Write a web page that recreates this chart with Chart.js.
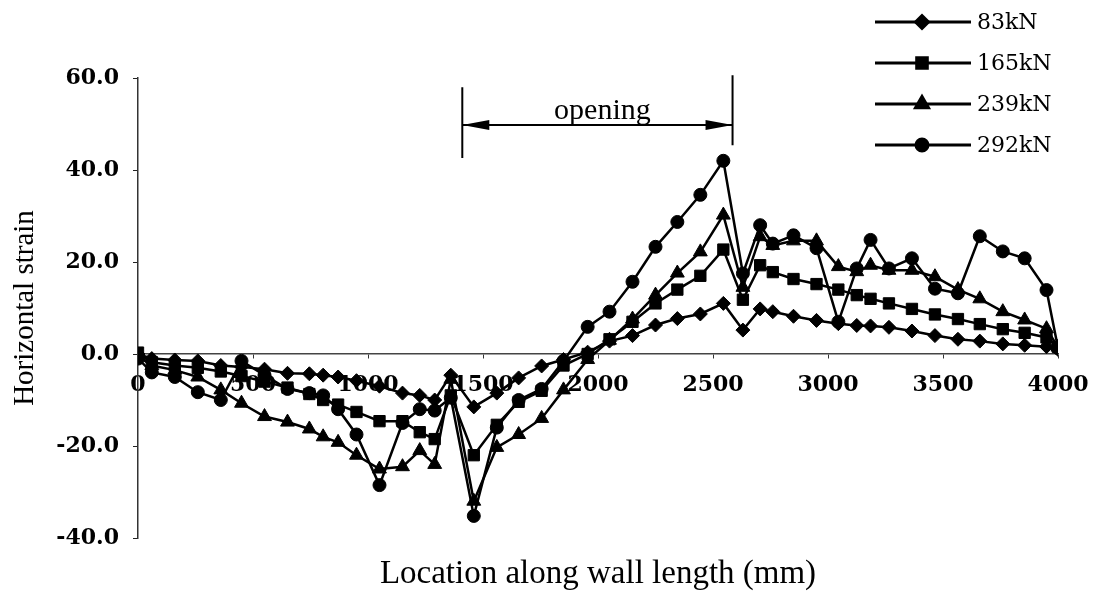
<!DOCTYPE html>
<html>
<head>
<meta charset="utf-8">
<title>Horizontal strain along wall length</title>
<script src="https://cdn.jsdelivr.net/npm/chart.js@4.4.0/dist/chart.umd.min.js"></script>
<style>
  html, body { margin: 0; padding: 0; background: #fff; }
</style>
</head>
<body>
<canvas id="strainChart" width="1096" height="597"></canvas>
<script>
// gauge positions along the wall (mm)
const locations = [0, 60, 160, 260, 360, 450, 550, 650, 745, 805, 870, 950, 1050, 1150, 1225, 1290,
  1360, 1460, 1560, 1655, 1755, 1850, 1955, 2050, 2150, 2250, 2345, 2445, 2545, 2630, 2705, 2760,
  2850, 2950, 3045, 3125, 3185, 3265, 3365, 3465, 3565, 3660, 3760, 3855, 3950, 4000];

// horizontal strain readings at each load level
const strain83 = [0, -1, -1.3, -1.5, -2.5, -2.8, -3.3, -4.2, -4.3, -4.6, -5, -5.8, -7, -8.5, -9, -10,
  -4.6, -11.5, -8.5, -5.2, -2.6, -1.2, 0.4, 2.8, 4, 6.3, 7.7, 8.7, 11, 5.2, 9.8, 9.2,
  8.2, 7.3, 6.6, 6.2, 6.1, 5.8, 5, 4, 3.2, 2.8, 2.2, 1.9, 1.6, 1];
const strain165 = [0.3, -1.8, -2.5, -3, -3.8, -4.8, -6, -7.3, -8.7, -10, -11, -12.6, -14.6, -14.6, -17, -18.5,
  -9, -22, -15.4, -10.4, -8, -2.5, 0, 3.2, 7, 11, 14, 17, 22.7, 11.8, 19.3, 17.8,
  16.3, 15.2, 14, 12.8, 12, 11, 9.8, 8.6, 7.6, 6.5, 5.4, 4.6, 3.6, 1.5];
const strain239 = [-0.5, -2.5, -3.5, -5, -7.8, -10.7, -13.6, -14.8, -16.3, -18, -19.2, -22, -25, -24.5, -21, -24,
  -5.5, -32, -20.3, -17.5, -14, -7.8, -1.2, 3, 7.6, 12.8, 17.6, 22.2, 30.2, 14.5, 25.5, 23.6,
  24.6, 24.6, 19, 17.9, 19.3, 18.2, 18.2, 16.8, 14, 12, 9.2, 7.4, 5.5, 1.5];
const strain292 = [-1, -4, -5, -8.3, -10, -1.5, -4.6, -7.6, -8.5, -9, -12, -17.5, -28.5, -15, -12, -12.3,
  -9.5, -35.2, -16, -10, -7.6, -1.5, 5.9, 9.2, 15.7, 23.3, 28.7, 34.6, 42, 17.5, 28, 24,
  25.8, 23, 7, 18.6, 24.8, 18.6, 20.8, 14.2, 13.2, 25.6, 22.3, 20.8, 13.9, 1.3];

const loadLabels = ["83kN", "165kN", "239kN", "292kN"];
const markerStyles = ["rectRot", "rect", "triangle", "circle"];
const markerSizes = [7, 8, 8, 6.5];

// extent of the wall opening (mm)
const openingStart = 1410;
const openingEnd = 2585;

const xTitle = "Location along wall length (mm)";

Chart.defaults.color = "#000";

const series = [strain83, strain165, strain239, strain292];
const datasets = series.map((values, i) => ({
  label: loadLabels[i],
  data: locations.map((x, j) => ({ x: x, y: values[j] })),
  borderColor: "#000",
  backgroundColor: "#000",
  borderWidth: 2.5,
  pointStyle: markerStyles[i],
  pointRadius: markerSizes[i],
  pointBackgroundColor: "#000",
  pointBorderColor: "#000",
  pointBorderWidth: 1,
  tension: 0
}));

// legend in the top right corner: line sample, marker, load
const loadLegend = {
  id: "loadLegend",
  afterDraw(chart) {
    const ctx = chart.ctx;
    ctx.save();
    chart.data.datasets.forEach((ds, i) => {
      const y = 22 + i * 41;
      ctx.strokeStyle = "#000";
      ctx.fillStyle = "#000";
      ctx.lineWidth = 3;
      ctx.beginPath();
      ctx.moveTo(875, y);
      ctx.lineTo(971, y);
      ctx.stroke();
      Chart.helpers.drawPoint(ctx, {
        pointStyle: ds.pointStyle,
        radius: ds.pointRadius - 0.5,
        rotation: 0,
        borderWidth: 1
      }, 922, y);
      ctx.font = "22px 'DejaVu Serif'";
      ctx.textAlign = "left";
      ctx.textBaseline = "middle";
      ctx.fillText(ds.label, 977, y + 1);
    });
    ctx.restore();
  }
};

// double arrow marking the opening, plus the x axis title under the plot
const openingMark = {
  id: "openingMark",
  afterDraw(chart) {
    const { ctx, chartArea, scales: { x, y } } = chart;
    const x1 = x.getPixelForValue(openingStart);
    const x2 = x.getPixelForValue(openingEnd);
    const ay = y.getPixelForValue(49.8);
    ctx.save();
    ctx.strokeStyle = "#000";
    ctx.fillStyle = "#000";
    ctx.lineWidth = 2;
    ctx.beginPath();
    ctx.moveTo(x1, y.getPixelForValue(58));
    ctx.lineTo(x1, y.getPixelForValue(42.6));
    ctx.moveTo(x2, y.getPixelForValue(60.6));
    ctx.lineTo(x2, y.getPixelForValue(45.4));
    ctx.moveTo(x1, ay);
    ctx.lineTo(x2, ay);
    ctx.stroke();
    ctx.beginPath();
    ctx.moveTo(x1, ay);
    ctx.lineTo(x1 + 27, ay - 5);
    ctx.lineTo(x1 + 27, ay + 5);
    ctx.closePath();
    ctx.moveTo(x2, ay);
    ctx.lineTo(x2 - 27, ay - 5);
    ctx.lineTo(x2 - 27, ay + 5);
    ctx.closePath();
    ctx.fill();
    ctx.font = "30px 'Liberation Serif'";
    ctx.textAlign = "center";
    ctx.textBaseline = "alphabetic";
    ctx.fillText("opening", (x1 + x2) / 2 + 5, ay - 6);

    ctx.font = "33px 'Liberation Serif'";
    ctx.textBaseline = "middle";
    ctx.fillText(xTitle, (chartArea.left + chartArea.right) / 2, chartArea.bottom + 36);
    ctx.restore();
  }
};

new Chart(document.getElementById("strainChart"), {
  type: "line",
  data: { datasets: datasets },
  options: {
    responsive: false,
    animation: false,
    layout: { padding: { left: 0, right: 38, top: 78, bottom: 59 } },
    plugins: {
      legend: { display: false },
      tooltip: { enabled: false }
    },
    scales: {
      x: {
        type: "linear",
        position: { y: 0 },
        min: 0,
        max: 4000,
        afterFit(scale) {
          scale.paddingLeft = 0;
          scale.paddingRight = 0;
        },
        grid: { drawOnChartArea: false, tickLength: 4, color: "#333" },
        border: { color: "#444", width: 1.5, dash: [10, 3, 3, 3] },
        ticks: {
          stepSize: 500,
          autoSkip: false,
          maxRotation: 0,
          padding: 14,
          color: "#000",
          font: { family: "'DejaVu Serif'", size: 22, weight: "bold" },
          callback: v => String(v)
        }
      },
      y: {
        min: -40,
        max: 60,
        afterFit(scale) { scale.width = 138; },
        grid: { drawOnChartArea: false, tickLength: 5, color: "#222" },
        border: { color: "#333", width: 1.5, dash: [3, 3] },
        ticks: {
          stepSize: 20,
          padding: 14,
          color: "#000",
          font: { family: "'DejaVu Serif'", size: 22, weight: "bold" },
          callback: v => v.toFixed(1)
        },
        title: {
          display: true,
          text: "Horizontal strain",
          color: "#000",
          font: { family: "'Liberation Serif'", size: 29, weight: "normal" },
          padding: { top: 8, bottom: 0 }
        }
      }
    }
  },
  plugins: [loadLegend, openingMark]
});
</script>
</body>
</html>
